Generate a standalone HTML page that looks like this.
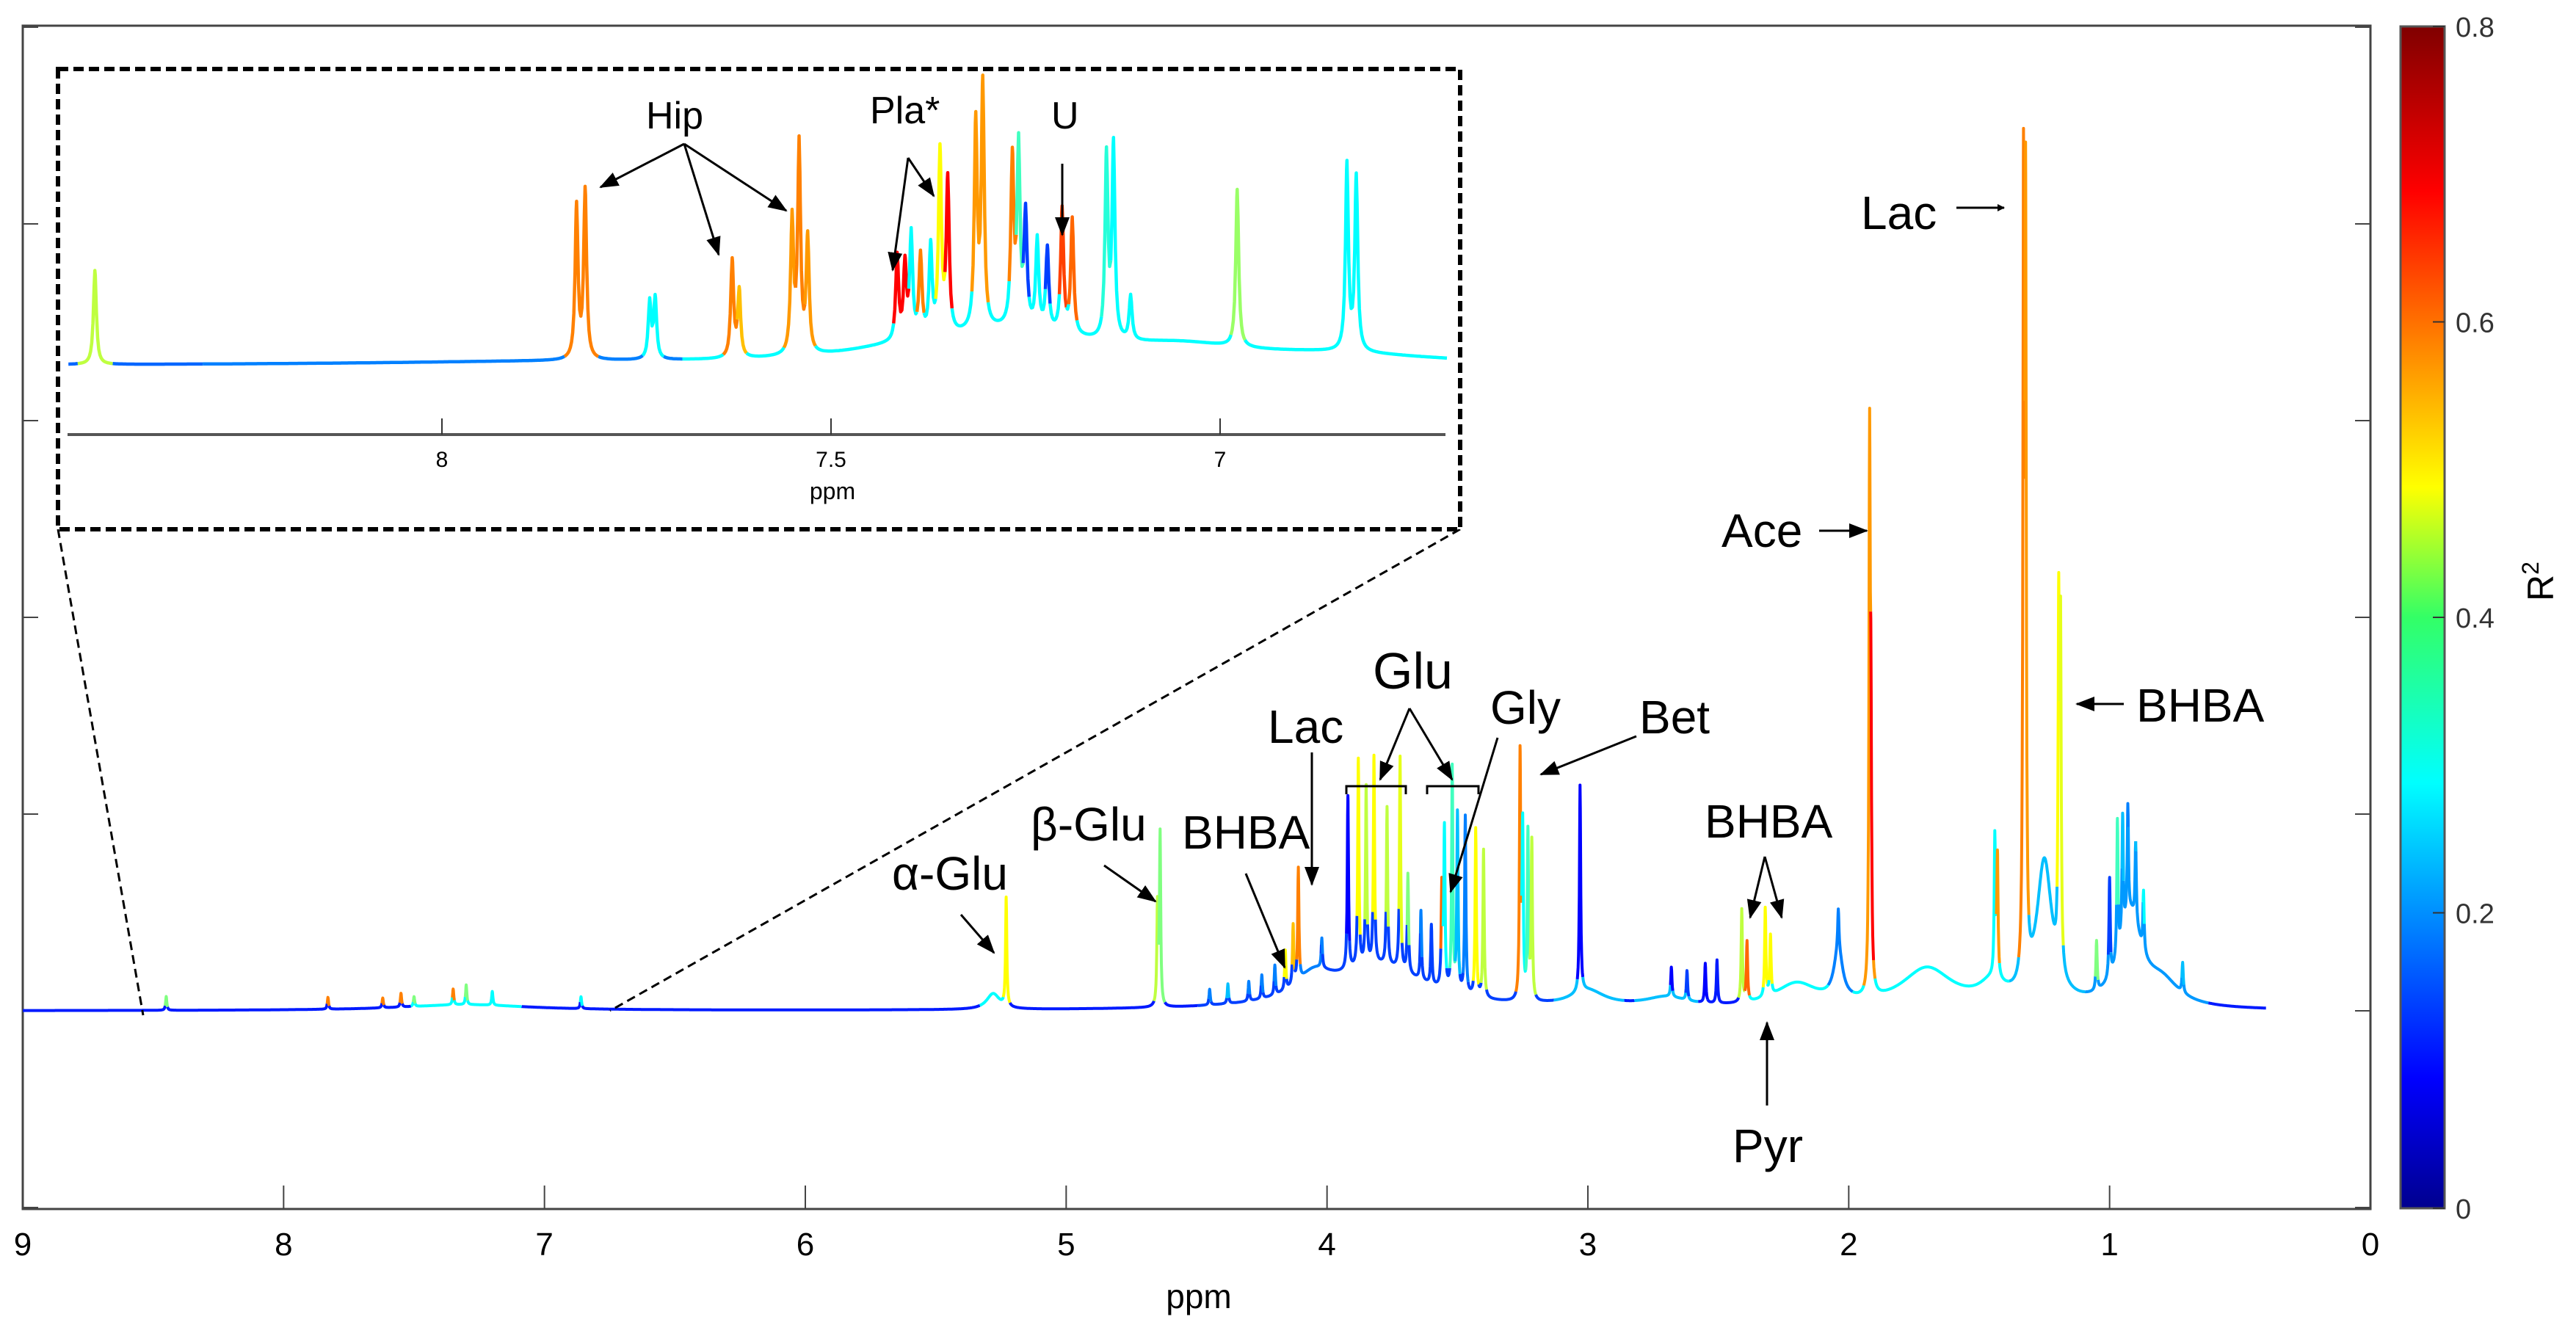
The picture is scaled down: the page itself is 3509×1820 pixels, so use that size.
<!DOCTYPE html>
<html><head><meta charset="utf-8"><style>
html,body{margin:0;padding:0;background:#fff;}
svg{display:block;font-family:"Liberation Sans",Arial,sans-serif;}
</style></head><body>
<svg id="chart" width="3509" height="1820" viewBox="0 0 3509 1820" xmlns="http://www.w3.org/2000/svg">
<defs>
<marker id="ah" markerWidth="10" markerHeight="10" refX="9" refY="5" orient="auto" markerUnits="userSpaceOnUse" viewBox="0 0 10 10"><path d="M0,0 L10,5 L0,10 z" fill="#000"/></marker>
<marker id="ahb" markerWidth="26" markerHeight="26" refX="24" refY="13" orient="auto" markerUnits="userSpaceOnUse" viewBox="0 0 26 26"><path d="M0,3 L26,13 L0,23 z" fill="#000"/></marker>
<linearGradient id="jet" x1="0" y1="1" x2="0" y2="0">
<stop offset="0" stop-color="#00008f"/><stop offset="0.11" stop-color="#0000ff"/><stop offset="0.36" stop-color="#00ffff"/><stop offset="0.5" stop-color="#33ff66"/><stop offset="0.61" stop-color="#ffff00"/><stop offset="0.86" stop-color="#ff0000"/><stop offset="1" stop-color="#800000"/>
</linearGradient>
</defs>
<rect x="31" y="35" width="3198" height="1612" fill="none" stroke="#444" stroke-width="3"/>
<g id="axes"></g>
<g id="spectrum"></g>
<g stroke="#000" stroke-width="3" stroke-dasharray="12,7" fill="none">
<line x1="79" y1="721" x2="195" y2="1383"/>
<line x1="1989" y1="721" x2="831" y2="1377"/>
</g>
<rect x="79" y="94" width="1910" height="627" fill="#fff" stroke="#000" stroke-width="6" stroke-dasharray="14,7"/>
<g id="inset"></g>
<g id="inset-axis"></g>

<g font-size="64" fill="#000">
<text x="2535" y="312">Lac</text>
<line x1="2665" y1="283" x2="2730" y2="283" stroke="#000" stroke-width="3" marker-end="url(#ah)"/>
<text x="2345" y="745">Ace</text>
<line x1="2478" y1="723" x2="2543" y2="723" stroke="#000" stroke-width="3" marker-end="url(#ahb)"/>
<text x="2910" y="983">BHBA</text>
<line x1="2893" y1="959" x2="2829" y2="959" stroke="#000" stroke-width="3" marker-end="url(#ahb)"/>
<text x="2233" y="999">Bet</text>
<line x1="2229" y1="1003" x2="2099" y2="1055" stroke="#000" stroke-width="3" marker-end="url(#ahb)"/>
<text x="2030" y="986">Gly</text>
<line x1="2040" y1="1005" x2="1976" y2="1215" stroke="#000" stroke-width="3" marker-end="url(#ahb)"/>
<text x="1870" y="938" font-size="70">Glu</text>
<line x1="1920" y1="965" x2="1880" y2="1062" stroke="#000" stroke-width="3" marker-end="url(#ahb)"/>
<line x1="1920" y1="965" x2="1978" y2="1062" stroke="#000" stroke-width="3" marker-end="url(#ahb)"/>
<path d="M1834,1082 V1071 H1915 V1082" fill="none" stroke="#000" stroke-width="3"/>
<path d="M1944,1082 V1071 H2014 V1082" fill="none" stroke="#000" stroke-width="3"/>
<text x="1727" y="1012">Lac</text>
<line x1="1787" y1="1025" x2="1787" y2="1205" stroke="#000" stroke-width="3" marker-end="url(#ahb)"/>
<text x="1610" y="1156">BHBA</text>
<line x1="1697" y1="1190" x2="1750" y2="1318" stroke="#000" stroke-width="3" marker-end="url(#ahb)"/>
<text x="1404" y="1145">β-Glu</text>
<line x1="1504" y1="1179" x2="1574" y2="1228" stroke="#000" stroke-width="3" marker-end="url(#ahb)"/>
<text x="1215" y="1212">α-Glu</text>
<line x1="1309" y1="1246" x2="1354" y2="1298" stroke="#000" stroke-width="3" marker-end="url(#ahb)"/>
<text x="2322" y="1141">BHBA</text>
<line x1="2404" y1="1167" x2="2384" y2="1250" stroke="#000" stroke-width="3" marker-end="url(#ahb)"/>
<line x1="2404" y1="1167" x2="2427" y2="1250" stroke="#000" stroke-width="3" marker-end="url(#ahb)"/>
<text x="2360" y="1583">Pyr</text>
<line x1="2407" y1="1506" x2="2407" y2="1393" stroke="#000" stroke-width="3" marker-end="url(#ahb)"/>
</g>
<g font-size="52" fill="#000">
<text x="880" y="175">Hip</text>
<line x1="932" y1="196" x2="818" y2="255" stroke="#000" stroke-width="3" marker-end="url(#ahb)"/>
<line x1="932" y1="196" x2="979" y2="347" stroke="#000" stroke-width="3" marker-end="url(#ahb)"/>
<line x1="932" y1="196" x2="1071" y2="287" stroke="#000" stroke-width="3" marker-end="url(#ahb)"/>
<text x="1185" y="168">Pla*</text>
<line x1="1237" y1="215" x2="1216" y2="368" stroke="#000" stroke-width="3" marker-end="url(#ahb)"/>
<line x1="1237" y1="215" x2="1272" y2="267" stroke="#000" stroke-width="3" marker-end="url(#ahb)"/>
<text x="1432" y="175">U</text>
<line x1="1447" y1="223" x2="1447" y2="320" stroke="#000" stroke-width="3" marker-end="url(#ahb)"/>
</g>

<rect x="3270" y="36" width="60" height="1610" fill="url(#jet)" stroke="#555" stroke-width="3"/>
<g id="cbar"></g>
<text x="3478" y="792" font-size="50" text-anchor="middle" transform="rotate(-90 3478 792)">R<tspan font-size="32" dy="-20">2</tspan></text>
<text x="1633" y="1782" font-size="46" text-anchor="middle">ppm</text>
</svg>
<script>
// ---- data ----
var xTickLabels = ["9","8","7","6","5","4","3","2","1","0"];
var cbarTickLabels = ["0","0.2","0.4","0.6","0.8"];
var insetTickLabels = ["8","7.5","7"];
// main spectrum peaks: ppm, height (axis units), R2
var peakPpm = [1.33,1.322,1.92,1.915,1.195,1.188,3.26,3.25,3.23,3.215,3.03,3.92,3.88,3.85,3.82,3.77,3.72,3.69,3.56,3.55,3.52,3.50,3.47,3.43,3.40,4.11,4.13,4.16,5.23,4.64,4.65,2.41,2.39,2.32,2.30,2.04,1.44,1.43,0.97,0.95,0.93,0.90,0.87,1.00,1.05,0.72,2.62,2.55,2.68,2.505,4.45,4.38,4.30,4.25,4.20,8.45,7.83,7.62,7.55,7.50,7.30,7.35,7.20,6.86,3.64,3.60,4.02];
var peakHeight = [3.9,3.8,2.7,1.2,1.75,1.65,1.23,0.85,0.84,0.80,1.05,0.88,1.05,0.9,1.05,0.8,1.08,0.5,0.5,0.8,1.13,0.9,0.9,0.85,0.75,0.57,0.3,0.2,0.55,0.87,0.5,0.47,0.3,0.45,0.3,0.2,0.70,0.6,0.69,0.6,0.55,0.4,0.3,0.5,0.25,0.15,0.15,0.2,0.15,0.22,0.08,0.1,0.1,0.12,0.15,0.07,0.06,0.05,0.07,0.05,0.1,0.08,0.07,0.06,0.35,0.3,0.15];
var peakR2 = [0.6,0.58,0.58,0.7,0.5,0.48,0.6,0.3,0.35,0.45,0.1,0.1,0.5,0.45,0.5,0.45,0.48,0.4,0.62,0.3,0.35,0.25,0.2,0.5,0.45,0.6,0.55,0.5,0.5,0.4,0.45,0.45,0.62,0.5,0.5,0.2,0.3,0.58,0.35,0.25,0.2,0.25,0.3,0.15,0.4,0.25,0.15,0.1,0.1,0.12,0.2,0.25,0.2,0.2,0.2,0.4,0.6,0.6,0.6,0.4,0.4,0.6,0.3,0.3,0.2,0.15,0.2];
// broad humps: ppm, height, halfwidth, R2
var humpPpm = [5.28,3.8,4.05,3.0,2.04,1.7,1.25,0.92,2.2,7.3,1.45,2.7,0.8];
var humpHeight = [0.08,0.22,0.12,0.08,0.25,0.2,0.72,0.45,0.12,0.03,0.1,0.05,0.12];
var humpWidth = [0.03,0.22,0.08,0.08,0.02,0.12,0.035,0.05,0.1,0.3,0.06,0.1,0.08];
var humpR2 = [0.3,0.15,0.2,0.25,0.2,0.3,0.25,0.22,0.3,0.3,0.3,0.25,0.22];
// inset peaks: ppm, height (px), R2
var insetPpm = [8.446,7.827,7.816,7.733,7.726,7.627,7.618,7.55,7.541,7.53,7.415,7.405,7.397,7.385,7.372,7.36,7.35,7.314,7.305,7.267,7.259,7.25,7.235,7.222,7.203,7.19,7.146,7.137,7.115,6.978,6.837,6.825];
var insetHeight = [128,208,229,77,82,132,90,182,283,156,115,100,140,110,120,248,208,279,330,225,240,150,120,110,168,156,248,262,60,214,253,236];
var insetR2 = [0.45,0.6,0.6,0.3,0.3,0.6,0.55,0.58,0.6,0.58,0.7,0.7,0.3,0.6,0.3,0.5,0.7,0.58,0.58,0.6,0.35,0.15,0.3,0.15,0.65,0.62,0.33,0.3,0.3,0.42,0.3,0.3];
var insetHumpPpm = [7.27,7.05,6.85,7.85,7.42];
var insetHumpHeight = [42,18,12,4,10];
var insetHumpWidth = [0.12,0.1,0.15,0.3,0.08];
var insetHumpR2 = [0.3,0.3,0.3,0.2,0.3];

// ---- scales ----
function xS(p){return 31+(9-p)*(3229-31)/9;}
function yS(v){return 1377-v*268;}
function ixS(p){return 602+(8-p)*1060;}
function iyS(v){return 498-v;}
function jet(r){var t=Math.max(0,Math.min(1,r/0.8));
 function f(x){return Math.max(0,Math.min(1,1.5-Math.abs(x)));}
 var R=f(4*t-3),G=f(4*t-2),B=f(4*t-1);
 return "rgb("+Math.round(R*255)+","+Math.round(G*255)+","+Math.round(B*255)+")";}
var NS="http://www.w3.org/2000/svg";
function mk(tag,attrs,parent){var e=document.createElementNS(NS,tag);for(var k in attrs)e.setAttribute(k,attrs[k]);parent.appendChild(e);return e;}

function build(pp,ph,pr,pw,hp,hh,hw,hr,p0,p1,baseR,X,Y,g,sw,nm){
 var grid=[];for(var p=p0;p>=p1;p-=0.0015)grid.push(p);
 pp.forEach(function(q){grid.push(q);grid.push(q+0.001);grid.push(q-0.001);});
 grid=grid.filter(function(q){return q<=p0&&q>=p1;}).sort(function(a,b){return b-a;});
 var pts=[];
 grid.forEach(function(q){var y=0,best=0,col=baseR;
  for(var i=0;i<pp.length;i++){var d=(q-pp[i])/pw;var c=ph[i]/(1+d*d);y+=c;if(c>best){best=c;col=pr[i];}}
  for(var j=0;j<hp.length;j++){var d2=(q-hp[j])/hw[j];var c2=hh[j]/(1+d2*d2);y+=c2;if(c2>best){best=c2;col=hr[j];}}
  if(best<0.02*(nm?1:60))col=baseR;
  pts.push([X(q),Y(y),col]);});
 var i=0;
 while(i<pts.length-1){var c=pts[i][2];var d="M"+pts[i][0].toFixed(1)+","+pts[i][1].toFixed(1);var j=i+1;
  while(j<pts.length){d+="L"+pts[j][0].toFixed(1)+","+pts[j][1].toFixed(1);if(pts[j][2]!==c)break;j++;}
  var path=mk("path",{d:d,fill:"none",stroke:jet(c),"stroke-width":sw,"stroke-linejoin":"round"},g);
  
  
  i=j;}
}
build(peakPpm,peakHeight,peakR2,0.0028,humpPpm,humpHeight,humpWidth,humpR2,9,0.4,0.12,xS,yS,document.getElementById("spectrum"),4,true);
build(insetPpm,insetHeight,insetR2,0.0022,insetHumpPpm,insetHumpHeight,insetHumpWidth,insetHumpR2,8.48,6.707,0.18,ixS,iyS,document.getElementById("inset"),4.5,false);

// axes
var ax=document.getElementById("axes");
xTickLabels.forEach(function(l){var p=parseFloat(l);var x=xS(p);
 var t=mk("line",{x1:x,y1:1647,x2:x,y2:1615,stroke:"#444","stroke-width":2},ax);
 
 
 var tx=mk("text",{x:x,y:1710,"font-size":44,"text-anchor":"middle"},ax);tx.textContent=l;
 
 });
for(var k=-1;k<=5;k++){var y=yS(k);
 var a=mk("line",{x1:31,y1:y,x2:52,y2:y,stroke:"#444","stroke-width":2},ax);
 
 
 var b=mk("line",{x1:3229,y1:y,x2:3208,y2:y,stroke:"#444","stroke-width":2},ax);
 
 }
// inset axis
var ia=document.getElementById("inset-axis");
var il=mk("line",{x1:92,y1:592,x2:1969,y2:592,stroke:"#555","stroke-width":4},ia);


insetTickLabels.forEach(function(l){var x=ixS(parseFloat(l));
 var t=mk("line",{x1:x,y1:592,x2:x,y2:570,stroke:"#333","stroke-width":2},ia);
 
 
 var tx=mk("text",{x:x,y:636,"font-size":30,"text-anchor":"middle"},ia);tx.textContent=l;
 
 });
var ip=mk("text",{x:1134,y:680,"font-size":32,"text-anchor":"middle"},ia);ip.textContent="ppm";


// colorbar
var cb=document.getElementById("cbar");
cbarTickLabels.forEach(function(l){var v=parseFloat(l);var y=1646-v/0.8*1610;
 var t=mk("line",{x1:3330,y1:y,x2:3314,y2:y,stroke:"#333","stroke-width":2},cb);
 
 
 var tx=mk("text",{x:3345,y:y+14,"font-size":38,fill:"#333"},cb);tx.textContent=l;
 
 });
</script>
</body></html>
